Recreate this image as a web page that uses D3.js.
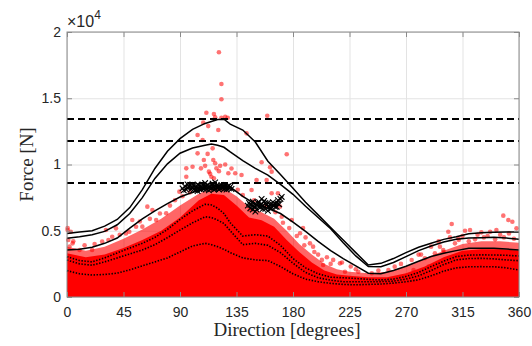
<!DOCTYPE html>
<html>
<head>
<meta charset="utf-8">
<script src="https://cdn.jsdelivr.net/npm/d3@7"></script>
<style>
    body { margin: 0; background: #fff; }
    svg { display: block; }
    .tick text { font-family: "Liberation Sans", Arial, sans-serif; font-size: 14px; fill: #262626; }
</style>
</head>
<body>
<div id="chart"></div>
<script>
// ---- data ----
const dirs = [0, 10, 20, 30, 40, 50, 60, 70, 80, 90, 100, 110, 115, 120, 125, 130, 140, 150, 160, 170, 180, 190, 200, 210, 220, 230, 240, 250, 260, 270, 280, 290, 300, 310, 320, 330, 340, 350, 360];

// solid black envelopes
const upper1 = [4800, 4900, 5000, 5350, 5850, 6750, 8100, 9700, 11000, 11950, 12650, 13100, 13250, 13400, 13420, 13050, 12600, 11700, 10250, 9250, 8200, 7150, 6200, 5250, 4300, 3350, 2420, 2540, 2900, 3350, 3750, 4050, 4350, 4550, 4780, 4850, 4880, 4900, 4900];
const upper2 = [4430, 4550, 4700, 4950, 5450, 6300, 7500, 8950, 10050, 10850, 11250, 11450, 11550, 11450, 11300, 10950, 10300, 9700, 9200, 8500, 7750, 6850, 6000, 5150, 4100, 3100, 2300, 2290, 2600, 3050, 3500, 3850, 4150, 4350, 4450, 4480, 4500, 4450, 4350];
const upper3 = [3550, 3600, 3750, 4050, 4450, 5200, 5900, 6500, 7050, 7550, 7900, 8150, 8400, 8450, 8450, 8300, 7600, 7000, 6700, 6300, 5650, 4950, 4200, 3500, 2900, 2350, 1800, 1750, 2000, 2320, 2700, 3050, 3300, 3500, 3670, 3680, 3670, 3620, 3550];

// dotted percentile lines
const pct1 = [3040, 2750, 2650, 2950, 3330, 3700, 4050, 4500, 5100, 5850, 6500, 7000, 6950, 6700, 6300, 5600, 4600, 4700, 4600, 3900, 2900, 2200, 1750, 1500, 1450, 1400, 1330, 1290, 1350, 1550, 1850, 2300, 2700, 3050, 3160, 3180, 3170, 3150, 3090];
const pct2 = [2790, 2500, 2400, 2650, 2950, 3250, 3550, 3950, 4480, 5050, 5600, 6050, 6000, 5800, 5550, 5000, 3950, 4050, 3900, 3350, 2550, 1850, 1450, 1270, 1150, 1150, 1150, 1160, 1200, 1350, 1600, 2000, 2450, 2800, 2900, 2920, 2880, 2800, 2740];
const pct3 = [1990, 1750, 1660, 1700, 1800, 2050, 2350, 2650, 2950, 3400, 3850, 4050, 3950, 3800, 3600, 3350, 2950, 2800, 2750, 2300, 1750, 1350, 1150, 1030, 950, 920, 950, 980, 1050, 1150, 1300, 1600, 1950, 2200, 2280, 2290, 2280, 2200, 2040];

// red point cloud: solid core and speckled fringe
const cloudDirs = [0, 15, 30, 45, 60, 75, 90, 105, 115, 125, 135, 145, 155, 165, 175, 185, 195, 205, 215, 225, 240, 255, 270, 285, 300, 315, 330, 345, 360];
const cloudCore = [3300, 3000, 3200, 3700, 4300, 5000, 6000, 7300, 7800, 7700, 6900, 6000, 5800, 5300, 4300, 3400, 2600, 2000, 1700, 1600, 1500, 1500, 1800, 2300, 3000, 3500, 3600, 3600, 3500];
const cloudFringe = [3800, 3500, 3800, 4400, 5100, 5900, 6900, 7800, 8200, 8200, 7600, 6800, 6400, 5900, 5000, 4000, 3200, 2500, 2100, 1900, 1800, 1900, 2300, 2900, 3500, 4000, 4200, 4200, 4100];

// loose red points [direction, force]
const loosePoints = [
    [121, 18470], [123, 16080], [123, 14920], [111, 13910], [117, 13810], [118, 13560], [123, 13530], [128, 13530],
    [159.5, 13680], [108.5, 13160], [112.5, 12900], [120.5, 12600], [104, 12230], [143, 12350], [126, 13600],
    [175, 10770], [155, 10170], [161.7, 9790], [163, 9460], [116.5, 10340], [119, 9710], [115, 9080], [128.5, 9340],
    [134, 9340], [139, 9210], [151, 8830], [159, 8830], [147, 8080], [163, 7830], [168, 7830], [171, 6060], [179, 5810],
    [185.6, 4810], [193.5, 4050], [204, 2420], [217.4, 2540], [221.4, 1910], [145.7, 6570], [153.7, 5560], [169.6, 6820],
    [108, 11850], [116, 11220], [104, 10840], [109, 10340], [95, 9710], [100, 9830], [106.7, 9710], [113, 9460],
    [95, 9080], [117, 8960], [89.5, 7950], [64, 6820], [68, 6570], [52, 5810], [49.6, 4930], [39, 5180], [31, 5060],
    [3, 4930], [0.5, 5060], [4.5, 4050], [2, 3800], [10, 3550], [20, 3550], [28, 4180], [36, 4550], [47, 4800],
    [60, 5310], [71, 5810], [79, 6320], [0.5, 5200], [1, 4300],
    [112, 10800], [118, 10100], [122, 9900], [126, 10000], [121, 9500], [131, 9700], [110, 9900], [114, 9300],
    [200, 3200], [207, 3000], [212, 2800], [219, 2600], [226, 2300], [196, 3800], [190, 4500], [188, 5200],
    [347.5, 6140], [351.5, 5810], [354.7, 5680], [306.4, 5510], [358, 5180], [303.7, 4930], [317, 5000], [321, 5060],
    [330, 4880], [337, 4930], [342, 5060], [242.7, 1790], [256, 2040], [274.5, 2790], [285, 2920], [293, 3300],
    [299.7, 3550], [288, 2290], [276, 2040], [309, 4050], [311.7, 4430], [325, 4350], [341, 4350], [261, 2290], [232, 1910],
    [280, 3200], [290, 3800], [296, 4200], [305, 4500], [315, 4600], [327, 4700], [335, 4600], [345, 4700], [352, 4800],
    [300, 3400], [320, 4200],
    // fringe speckle
    [5, 4200], [14, 3900], [22, 4000], [33, 4300], [42, 4700], [55, 5300], [58, 5700], [66, 5900], [74, 6300],
    [82, 6900], [86, 7300], [92, 7600], [98, 7900], [136, 8100], [140, 7700], [149, 7300], [158, 6900], [166, 6400],
    [172, 5600], [177, 5200], [183, 4600], [189, 3900], [197, 3400], [203, 2800], [210, 2500], [230, 2100],
    [248, 2000], [266, 2500], [282, 3200], [297, 3800], [312, 4300], [332, 4500], [348, 4500], [356, 4400]
];

// black x markers
const markersA = [
    [92, 8200], [94, 8350], [95, 8100], [97, 8300], [98, 8450], [99, 8150], [100, 8250], [101, 8400], [102, 8050],
    [103, 8300], [104, 8500], [105, 8200], [106, 8350], [107, 8100], [108, 8250], [109, 8400], [110, 8300], [111, 8150],
    [112, 8450], [113, 8250], [114, 8350], [115, 8200], [116, 8550], [117, 8300], [118, 8150], [119, 8400], [120, 8250],
    [121, 8350], [122, 8200], [123, 8450], [124, 8300], [125, 8150], [126, 8400], [127, 8250], [128, 8350], [129, 8200],
    [130, 8300], [131, 8150], [104, 8000], [110, 8600], [118, 8650], [96, 8500],
    [93, 8050], [96, 8250], [99, 8350], [101, 8150], [103, 8100], [105, 8400], [107, 8300], [109, 8150], [111, 8350],
    [113, 8050], [115, 8400], [117, 8100], [119, 8250], [121, 8100], [123, 8250], [125, 8350], [127, 8100], [129, 8400]
];
const markersB = [
    [144, 6900], [145, 7100], [146, 6700], [147, 6950], [148, 7200], [149, 6800], [150, 7050], [151, 6600], [152, 6900],
    [153, 7150], [154, 6750], [155, 7000], [156, 6850], [157, 7250], [158, 6650], [159, 6950], [160, 7100], [161, 6800],
    [162, 7000], [163, 6700], [164, 7150], [165, 6900], [166, 7050], [167, 6800], [168, 7300], [169, 7000], [170, 7400],
    [150, 6450], [155, 7400], [160, 6500],
    [146, 6950], [148, 6600], [150, 6800], [152, 7100], [154, 6950], [156, 6650], [158, 7100], [160, 6850], [162, 6700],
    [164, 6950], [166, 6800], [168, 7050], [171, 7550]
];

const thresholds = [13430, 11770, 8600];
const xTicks = [0, 45, 90, 135, 180, 225, 270, 315, 360];
const yTicks = [0, 5000, 10000, 15000, 20000];

// ---- chart ----
const settings = {
    width: 532, height: 346,
    margins: { left: 67, right: 13, top: 32, bottom: 49 },
};
const { width, height, margins } = settings;
const boundWidth = width - margins.left - margins.right;
const boundHeight = height - margins.top - margins.bottom;

const svg = d3.select('#chart').append('svg')
    .attr('width', width).attr('height', height);

const bound = svg.append('g')
    .attr('transform', `translate(${margins.left},${margins.top})`);

const xScale = d3.scaleLinear().domain([0, 360]).range([0, boundWidth]);
const yScale = d3.scaleLinear().domain([0, 20000]).range([boundHeight, 0]);

// grid
bound.append('g')
    .attr('transform', `translate(0,${boundHeight})`)
    .call(d3.axisBottom(xScale).tickValues(xTicks).tickSize(-boundHeight).tickFormat(''))
    .call(g => g.select('.domain').remove())
    .call(g => g.selectAll('line').attr('stroke', '#e3e3e3'));
bound.append('g')
    .call(d3.axisLeft(yScale).tickValues(yTicks).tickSize(-boundWidth).tickFormat(''))
    .call(g => g.select('.domain').remove())
    .call(g => g.selectAll('line').attr('stroke', '#e3e3e3'));

// red cloud
const cloudArea = (vals) => d3.area()
    .x((d, i) => xScale(cloudDirs[i]))
    .y0(yScale(0))
    .y1((d, i) => yScale(vals[i]));

bound.append('path').datum(cloudFringe)
    .attr('d', cloudArea(cloudFringe))
    .attr('fill', '#ff0000').attr('fill-opacity', 0.6);
bound.append('path').datum(cloudCore)
    .attr('d', cloudArea(cloudCore))
    .attr('fill', '#ff0000');

bound.selectAll('.loose').data(loosePoints)
    .join('circle')
    .attr('class', 'loose')
    .attr('cx', d => xScale(d[0]))
    .attr('cy', d => yScale(d[1]))
    .attr('r', 2.3)
    .attr('fill', '#ff0000').attr('fill-opacity', 0.55);

// lines
const line = d3.line()
    .x((d, i) => xScale(dirs[i]))
    .y(d => yScale(d));

[pct1, pct2, pct3].forEach(vals => {
    bound.append('path').datum(vals)
        .attr('d', line)
        .attr('fill', 'none')
        .attr('stroke', '#000')
        .attr('stroke-width', 1.6)
        .attr('stroke-dasharray', '1.4,1.6');
});

[upper1, upper2, upper3].forEach(vals => {
    bound.append('path').datum(vals)
        .attr('d', line)
        .attr('fill', 'none')
        .attr('stroke', '#000')
        .attr('stroke-width', 1.5);
});

bound.selectAll('.threshold').data(thresholds)
    .join('line')
    .attr('class', 'threshold')
    .attr('x1', 0).attr('x2', boundWidth)
    .attr('y1', d => yScale(d)).attr('y2', d => yScale(d))
    .attr('stroke', '#000')
    .attr('stroke-width', 2)
    .attr('stroke-dasharray', '7,4');

// x markers
bound.selectAll('.marker').data([...markersA, ...markersB])
    .join('path')
    .attr('class', 'marker')
    .attr('transform', d => `translate(${xScale(d[0])},${yScale(d[1])})`)
    .attr('d', 'M-2.8,-2.8L2.8,2.8M-2.8,2.8L2.8,-2.8')
    .attr('stroke', '#000')
    .attr('stroke-width', 1.1);

// box + inward ticks
const axisColor = '#8a8a8a';
const styleAxis = g => {
    g.select('.domain').remove();
    g.selectAll('line').attr('stroke', axisColor);
};

bound.append('g')
    .attr('transform', `translate(0,${boundHeight})`)
    .call(d3.axisBottom(xScale).tickValues(xTicks).tickSize(-5).tickPadding(10))
    .call(styleAxis);
bound.append('g')
    .call(d3.axisTop(xScale).tickValues(xTicks).tickSize(-5).tickFormat(''))
    .call(styleAxis);
bound.append('g')
    .call(d3.axisLeft(yScale).tickValues(yTicks).tickSize(-5).tickPadding(6).tickFormat(d => d / 1e4))
    .call(styleAxis);
bound.append('g')
    .attr('transform', `translate(${boundWidth},0)`)
    .call(d3.axisRight(yScale).tickValues(yTicks).tickSize(-5).tickFormat(''))
    .call(styleAxis);

bound.append('rect')
    .attr('x', 0).attr('y', 0)
    .attr('width', boundWidth).attr('height', boundHeight)
    .attr('fill', 'none')
    .attr('stroke', axisColor);

// labels
svg.append('text')
    .attr('x', 287).attr('y', 336)
    .attr('text-anchor', 'middle')
    .style('font-family', '"Liberation Serif", "DejaVu Serif", serif')
    .style('font-size', '19px')
    .style('fill', '#262626')
    .text('Direction [degrees]');

svg.append('text')
    .attr('transform', `translate(33,${margins.top + boundHeight / 2}) rotate(-90)`)
    .attr('text-anchor', 'middle')
    .style('font-family', '"Liberation Serif", "DejaVu Serif", serif')
    .style('font-size', '19px')
    .style('fill', '#262626')
    .text('Force [N]');

const expo = svg.append('text')
    .attr('x', 67).attr('y', 27)
    .style('font-family', '"Liberation Sans", Arial, sans-serif')
    .style('font-size', '16px')
    .style('fill', '#262626');
expo.append('tspan').text('\u00d710');
expo.append('tspan').attr('dy', -8).style('font-size', '12px').text('4');
</script>
</body>
</html>
